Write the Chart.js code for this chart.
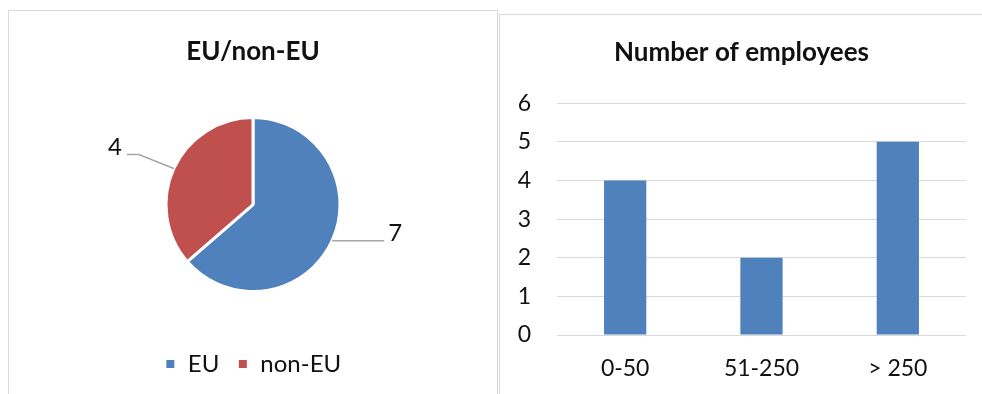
<!DOCTYPE html>
<html>
<head>
<meta charset="utf-8">
<script src="https://cdn.jsdelivr.net/npm/chart.js@4.4.1/dist/chart.umd.min.js"></script>
<style>
  html, body { margin: 0; padding: 0; background: #fff; }
  body { width: 982px; height: 394px; position: relative; overflow: hidden; }
  .panel { position: absolute; border: 1px solid #d9d9d9; box-sizing: border-box; background: #fff; }
  #regionPanel { left: 8px; top: 10px; width: 490px; height: 400px; }
  #sizePanel { left: 499px; top: 14px; width: 500px; height: 400px; }
  .panel canvas { position: absolute; left: 0; top: 0; }
</style>
</head>
<body>
<div class="panel" id="regionPanel"><canvas id="regionChart" width="488" height="384"></canvas></div>
<div class="panel" id="sizePanel"><canvas id="sizeChart" width="483" height="380"></canvas></div>
<script>
const regionLabels = ["EU", "non-EU"];
const regionCounts = [7, 4];
const regionColors = ["#4f81bd", "#c0504d"];

const sizeLabels = ["0-50", "51-250", "> 250"];
const sizeCounts = [4, 2, 5];
const sizeTicks = [0, 1, 2, 3, 4, 5, 6];

const FONT = "Lato, 'Open Sans', sans-serif";
const TEXT_COLOR = "#111";
const GRID_COLOR = "#d9d9d9";

Chart.defaults.font.family = FONT;
Chart.defaults.color = TEXT_COLOR;
Chart.defaults.animation = false;

// value labels outside the pie, joined to the slice by a grey leader line
const pieLeaderLabels = {
  id: "pieLeaderLabels",
  afterDatasetsDraw(chart) {
    const ctx = chart.ctx;
    const meta = chart.getDatasetMeta(0);
    const values = chart.data.datasets[0].data;

    ctx.save();
    ctx.strokeStyle = "#a6a6a6";
    ctx.lineWidth = 1.5;
    ctx.fillStyle = TEXT_COLOR;
    ctx.font = "24px " + FONT;
    ctx.textBaseline = "middle";

    meta.data.forEach((arc, i) => {
      const { x, y, startAngle, endAngle, outerRadius } = arc.getProps(
        ["x", "y", "startAngle", "endAngle", "outerRadius"], true
      );
      const mid = (startAngle + endAngle) / 2;
      const px = x + Math.cos(mid) * outerRadius;
      const py = y + Math.sin(mid) * outerRadius;

      ctx.beginPath();
      ctx.moveTo(px, py);
      if (Math.cos(mid) >= 0) {
        const ex = px + 52;
        ctx.lineTo(ex, py);
        ctx.stroke();
        ctx.textAlign = "left";
        ctx.fillText(String(values[i]), ex + 4, py - 7);
      } else {
        const bx = px - 35;
        const by = py - 14;
        const ex = bx - 12;
        ctx.lineTo(bx, by);
        ctx.lineTo(ex, by);
        ctx.stroke();
        ctx.textAlign = "right";
        ctx.fillText(String(values[i]), ex - 5, by - 7);
      }
    });
    ctx.restore();
  }
};

new Chart(document.getElementById("regionChart"), {
  type: "pie",
  data: {
    labels: regionLabels,
    datasets: [{
      data: regionCounts,
      backgroundColor: regionColors,
      borderColor: "#ffffff",
      borderWidth: 3,
      radius: 87
    }]
  },
  options: {
    responsive: false,
    layout: { padding: { left: 0, right: 0, top: 0, bottom: 9 } },
    plugins: {
      title: {
        display: true,
        text: "EU/non-EU",
        color: TEXT_COLOR,
        font: { size: 26, weight: "bold" },
        padding: { top: 25, bottom: 8 }
      },
      legend: {
        display: true,
        position: "bottom",
        labels: {
          boxWidth: 11,
          boxHeight: 11,
          padding: 18,
          color: TEXT_COLOR,
          font: { size: 24 }
        }
      },
      tooltip: { enabled: false }
    }
  },
  plugins: [pieLeaderLabels]
});

new Chart(document.getElementById("sizeChart"), {
  type: "bar",
  data: {
    labels: sizeLabels,
    datasets: [{
      data: sizeCounts,
      backgroundColor: "#4f81bd",
      categoryPercentage: 1,
      barPercentage: 0.31
    }]
  },
  options: {
    responsive: false,
    layout: { padding: { left: 17, right: 17, top: 0, bottom: 13 } },
    plugins: {
      title: {
        display: true,
        text: "Number of employees",
        color: TEXT_COLOR,
        font: { size: 26, weight: "bold" },
        padding: { top: 22, bottom: 35 }
      },
      legend: { display: false },
      tooltip: { enabled: false }
    },
    scales: {
      x: {
        afterFit(scale) {
          scale.height = 47;
        },
        grid: { display: false, drawTicks: false },
        border: { display: false },
        ticks: { padding: 20, color: TEXT_COLOR, font: { size: 23 } }
      },
      y: {
        min: sizeTicks[0],
        max: sizeTicks[sizeTicks.length - 1],
        afterFit(scale) {
          scale.width = 40;
        },
        grid: { color: GRID_COLOR, lineWidth: 1, drawTicks: false },
        border: { display: false },
        ticks: {
          stepSize: sizeTicks[1] - sizeTicks[0],
          padding: 26,
          color: TEXT_COLOR,
          font: { size: 23 }
        }
      }
    }
  }
});
</script>
</body>
</html>
